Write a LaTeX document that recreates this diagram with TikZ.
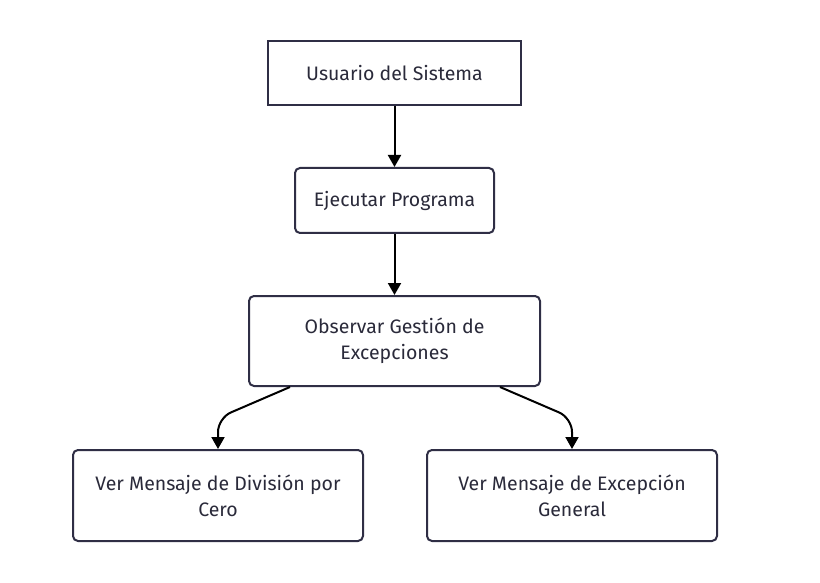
\documentclass[tikz,border=0pt]{standalone}
\usepackage{fontspec}
\setmainfont{Fira Sans}
\usetikzlibrary{arrows.meta}
\definecolor{boxline}{HTML}{2F2E45}
\definecolor{txt}{HTML}{2A2A3A}
\tikzset{
  x=1pt,y=-1pt,
  base/.style={draw=boxline, line width=2pt, fill=white, text=txt, align=center,
    font=\fontsize{19.5}{26}\selectfont, inner sep=0pt},
  sharpbox/.style={base},
  roundbox/.style={base, rounded corners=5pt},
  conn/.style={line width=2pt, draw=black, -{Triangle[length=12pt,width=13pt]}},
}
\begin{document}
\begin{tikzpicture}
\useasboundingbox (0,0) rectangle (820,583);
\node[sharpbox, minimum width=253pt, minimum height=64pt] (user) at (394.5,73) {Usuario del Sistema};
\node[roundbox, minimum width=199pt, minimum height=65pt] (exec) at (394.5,200.5) {Ejecutar Programa};
\node[roundbox, minimum width=291pt, minimum height=90pt] (obs) at (394.5,341) {Observar Gestión de\\Excepciones};
\node[roundbox, minimum width=290pt, minimum height=91pt] (div) at (218,495.5) {Ver Mensaje de División por\\Cero};
\node[roundbox, minimum width=290pt, minimum height=91pt] (gen) at (572,495.5) {Ver Mensaje de Excepción\\General};
\draw[conn] (user.south) -- (exec.north);
\draw[conn] (exec.south) -- (obs.north);
\coordinate (l1) at (290,387);
\coordinate (r1) at (500,387);
\draw[conn, rounded corners=14pt] (l1) -- (218,418) -- (div.north);
\draw[conn, rounded corners=14pt] (r1) -- (572,418) -- (gen.north);
\end{tikzpicture}
\end{document}
